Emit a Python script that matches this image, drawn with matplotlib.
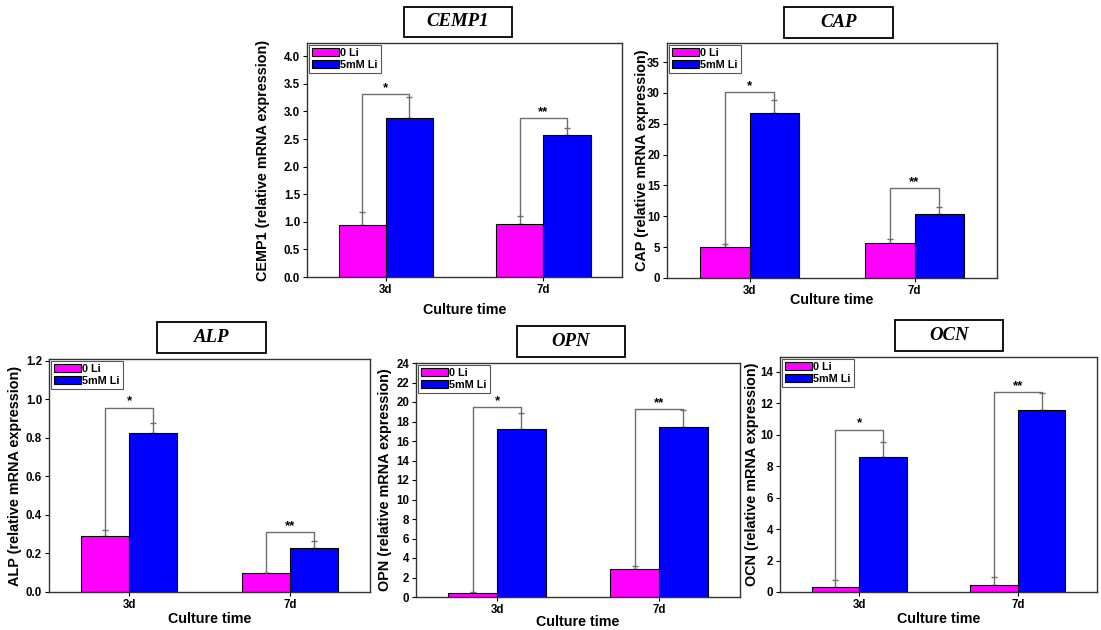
import numpy as np
import matplotlib
matplotlib.use("Agg")
from matplotlib import pyplot as plt
from matplotlib.patches import Rectangle

plt.rcParams['font.family'] = ['Liberation Sans', 'DejaVu Sans']
plt.rcParams['font.weight'] = 'bold'

W, H = 1101, 630

groups = ["3d", "7d"]
series = ["0 Li", "5mM Li"]
stars = ["*", "**"]

# CEMP1
cemp1_ctrl = [0.95, 0.96]
cemp1_ctrl_err = [0.23, 0.15]
cemp1_li = [2.89, 2.57]
cemp1_li_err = [0.38, 0.13]
cemp1_bracket = [3.31, 2.88]

# CAP
cap_ctrl = [5.0, 5.7]
cap_ctrl_err = [0.5, 0.6]
cap_li = [26.8, 10.4]
cap_li_err = [2.1, 1.1]
cap_bracket = [30.1, 14.6]

# ALP
alp_ctrl = [0.293, 0.097]
alp_ctrl_err = [0.027, 0.004]
alp_li = [0.828, 0.229]
alp_li_err = [0.05, 0.038]
alp_bracket = [0.958, 0.312]

# OPN
opn_ctrl = [0.4, 2.9]
opn_ctrl_err = [0.1, 0.3]
opn_li = [17.2, 17.4]
opn_li_err = [1.7, 1.8]
opn_bracket = [19.5, 19.3]

# OCN
ocn_ctrl = [0.3, 0.42]
ocn_ctrl_err = [0.48, 0.51]
ocn_li = [8.57, 11.6]
ocn_li_err = [0.98, 1.06]
ocn_bracket = [10.33, 12.73]

pink = "#ff00ff"
blue = "#0000ff"
grey = "#6e6e6e"
bw = 0.3

fig = plt.figure(figsize=(W / 100, H / 100), dpi=100)


def px_axes(l, t, r, b):
    return fig.add_axes([l / W, 1 - b / H, (r - l) / W, (b - t) / H])


def title_box(name, l, t, r, b):
    fig.patches.append(Rectangle((l / W, 1 - b / H), (r - l) / W, (b - t) / H,
                                 transform=fig.transFigure, fill=False,
                                 edgecolor="black", linewidth=1.3))
    fig.text((l + r) / 2 / W, 1 - (t + b) / 2 / H, name, ha="center", va="center",
             fontsize=13.5, fontweight="bold", style="italic",
             family=["Liberation Serif", "DejaVu Serif"])


def panel(box, name, ctrl, ctrl_err, li, li_err, bracket, ylim, yticks, fmt,
          ylab_x, xlab_y):
    l, t, r, b = box
    ax = px_axes(l, t, r, b)
    x = np.arange(len(groups))
    ax.bar(x - bw / 2, ctrl, bw, color=pink, edgecolor="black", linewidth=0.8,
           label=series[0], zorder=2)
    ax.bar(x + bw / 2, li, bw, color=blue, edgecolor="black", linewidth=0.8,
           label=series[1], zorder=2)
    ax.errorbar(x - bw / 2, ctrl, yerr=[np.zeros(2), ctrl_err], fmt="none",
                ecolor=grey, elinewidth=1, capsize=2, capthick=1, zorder=1)
    ax.errorbar(x + bw / 2, li, yerr=[np.zeros(2), li_err], fmt="none",
                ecolor=grey, elinewidth=1, capsize=2, capthick=1, zorder=1)
    # significance brackets
    for i in range(len(groups)):
        y0 = ctrl[i] + ctrl_err[i]
        y1 = li[i] + li_err[i]
        yb = bracket[i]
        ax.plot([x[i] - bw / 2, x[i] - bw / 2, x[i] + bw / 2, x[i] + bw / 2],
                [y0, yb, yb, y1], color=grey, linewidth=1, zorder=3)
        ax.text(x[i], yb, stars[i], ha="center", va="bottom", fontsize=9.5,
                fontweight="bold")
    ax.set_xlim(-0.5, 1.5)
    ax.set_ylim(*ylim)
    ax.set_yticks(yticks)
    ax.set_yticklabels([fmt.format(v) for v in yticks])
    ax.set_xticks(x)
    ax.set_xticklabels(groups)
    ax.tick_params(direction="out", length=3, width=0.8, labelsize=8.3,
                   top=False, right=False, pad=2)
    for s in ax.spines.values():
        s.set_linewidth(1)
        s.set_color("#333333")
    ax.set_ylabel(name + " (relative mRNA expression)", fontsize=10.4,
                  fontweight="bold", va="center")
    ax.yaxis.set_label_coords((ylab_x - l) / (r - l), 0.5)
    ax.set_xlabel("Culture time", fontsize=10.3, fontweight="bold", va="center")
    ax.xaxis.set_label_coords(0.5, (b - xlab_y) / (b - t))
    leg = ax.legend(loc="upper left", fontsize=7.8, handlelength=2.5,
                    handleheight=0.8, handletextpad=0.1, labelspacing=0.2,
                    borderpad=0.3, borderaxespad=0.15, fancybox=False,
                    framealpha=1)
    leg.get_frame().set_edgecolor("#555555")
    leg.get_frame().set_linewidth(0.8)
    return ax


panel((307, 43, 622, 277), "CEMP1", cemp1_ctrl, cemp1_ctrl_err, cemp1_li,
      cemp1_li_err, cemp1_bracket, (0, 4.24), np.arange(0, 4.01, 0.5), "{:.1f}",
      263, 310)
panel((667, 43, 997, 278), "CAP", cap_ctrl, cap_ctrl_err, cap_li, cap_li_err,
      cap_bracket, (0, 38.1), np.arange(0, 36, 5), "{:.0f}", 642, 300)
panel((49, 359, 370, 592), "ALP", alp_ctrl, alp_ctrl_err, alp_li, alp_li_err,
      alp_bracket, (0, 1.21), np.arange(0, 1.21, 0.2), "{:.1f}", 15, 619)
panel((416, 363, 740, 597), "OPN", opn_ctrl, opn_ctrl_err, opn_li, opn_li_err,
      opn_bracket, (0, 24), np.arange(0, 25, 2), "{:.0f}", 385, 622)
panel((780, 357, 1097, 592), "OCN", ocn_ctrl, ocn_ctrl_err, ocn_li, ocn_li_err,
      ocn_bracket, (0, 14.95), np.arange(0, 15, 2), "{:.0f}", 752, 619)

title_box("CEMP1", 404, 7, 512, 37)
title_box("CAP", 784, 7, 893, 38)
title_box("ALP", 157, 322, 266, 353)
title_box("OPN", 517, 326, 625, 357)
title_box("OCN", 895, 320, 1003, 351)

plt.savefig("out.png", dpi=100)
